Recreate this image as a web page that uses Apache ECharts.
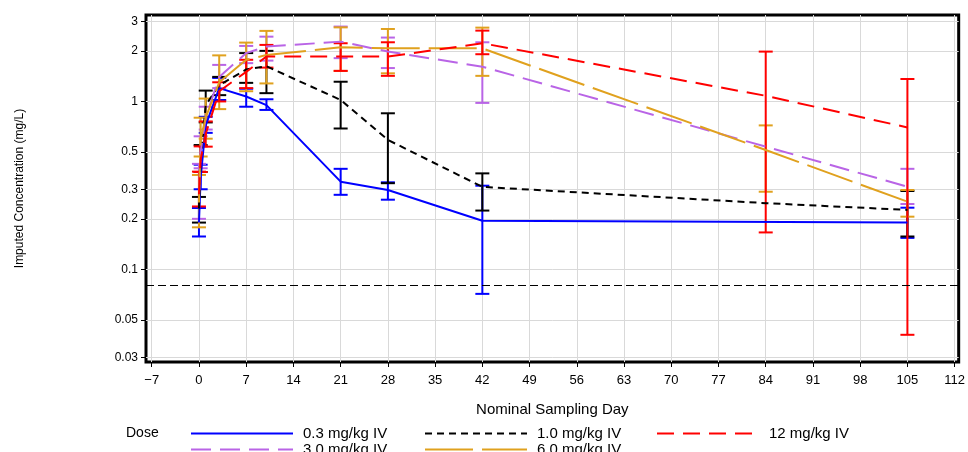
<!DOCTYPE html>
<html>
<head>
<meta charset="utf-8">
<script src="https://cdn.jsdelivr.net/npm/echarts@6/dist/echarts.min.js"></script>
<style>
  html, body { margin: 0; padding: 0; background: #fff; }
  #chart { width: 968px; height: 452px; }
</style>
</head>
<body>
<div id="chart"></div>
<script>
// Nominal sampling days
const days = [0, 0.25, 1, 3, 7, 10, 21, 28, 42, 84, 105];

// Mean imputed concentration (mg/L) and error bar bounds per dose group
const dose03Mean = [0.19, 0.35, 0.72, 1.2, 1.07, 0.95, 0.333, 0.297, 0.195, null, 0.19];
const dose03Low  = [0.157, 0.30, 0.65, 1.02, 0.93, 0.89, 0.278, 0.26, 0.0715, null, 0.154];
const dose03High = [0.232, 0.42, 0.81, 1.38, 1.19, 1.03, 0.397, 0.33, 0.315, null, 0.233];

const dose10Mean = [0.23, 0.45, 0.95, 1.25, 1.55, 1.62, 1.02, 0.59, 0.31, 0.248, 0.226];
const dose10Low  = [0.19, 0.38, 0.75, 1.09, 1.29, 1.12, 0.69, 0.326, 0.224, null, 0.157];
const dose10High = [0.27, 0.55, 1.16, 1.4, 1.94, 2.0, 1.31, 0.85, 0.373, null, 0.293];

const dose12Mean = [0.28, 0.45, 0.64, 1.15, 1.5, 1.85, 1.85, 1.85, 2.22, 1.08, 0.70];
const dose12Low  = [0.237, 0.38, 0.538, 1.0, 1.2, 1.59, 1.52, 1.42, 1.91, 0.166, 0.0408];
const dose12High = [0.382, 0.54, 0.76, 1.3, 1.77, 2.17, 2.22, 2.25, 2.64, 1.98, 1.36];

const dose30Mean = [0.29, 0.5, 0.8, 1.4, 1.94, 2.12, 2.27, 1.98, 1.61, null, 0.311];
const dose30Low  = [0.2, 0.4, 0.68, 1.2, 1.69, 1.75, 1.81, 1.58, 0.98, null, 0.245];
const dose30High = [0.425, 0.62, 0.93, 1.65, 2.14, 2.43, 2.79, 2.4, 2.25, null, 0.397];

const dose60Mean = [0.25, 0.6, 0.8, 1.3, 1.77, 1.89, 2.1, 2.07, 2.07, 0.514, 0.253];
const dose60Low  = [0.178, 0.47, 0.6, 0.9, 1.15, 1.28, 1.52, 1.47, 1.42, 0.29, 0.206];
const dose60High = [0.365, 0.8, 1.04, 1.88, 2.24, 2.63, 2.76, 2.7, 2.75, 0.72, 0.297];

// Lower limit of quantification reference line (mg/L)
const lloq = 0.078;

// Axis tick values
const xTicks = [-7, 0, 7, 14, 21, 28, 35, 42, 49, 56, 63, 70, 77, 84, 91, 98, 105, 112];
const yTicks = [0.03, 0.05, 0.1, 0.2, 0.3, 0.5, 1, 2, 3];

const groups = [
  { name: '0.3 mg/kg IV', mean: dose03Mean, low: dose03Low, high: dose03High, color: '#0000ff', dash: 'solid' },
  { name: '1.0 mg/kg IV', mean: dose10Mean, low: dose10Low, high: dose10High, color: '#000000', dash: [7, 5] },
  { name: '3.0 mg/kg IV', mean: dose30Mean, low: dose30Low, high: dose30High, color: '#b964e6', dash: [20, 9] },
  { name: '6.0 mg/kg IV', mean: dose60Mean, low: dose60Low, high: dose60High, color: '#e0a11e', dash: [48, 9] },
  { name: '12 mg/kg IV',  mean: dose12Mean, low: dose12Low, high: dose12High, color: '#ff0000', dash: [17, 9] }
];

const FONT = '"Liberation Sans", Arial, sans-serif';

function errorBar(params, api) {
  const x = api.value(0);
  const pLo = api.coord([x, api.value(1)]);
  const pHi = api.coord([x, api.value(2)]);
  const half = 7;
  const style = { stroke: api.visual('color'), lineWidth: 2, fill: null };
  return {
    type: 'group',
    children: [
      { type: 'line', shape: { x1: pLo[0], y1: pHi[1], x2: pLo[0], y2: pLo[1] }, style: style },
      { type: 'line', shape: { x1: pLo[0] - half, y1: pHi[1], x2: pLo[0] + half, y2: pHi[1] }, style: style },
      { type: 'line', shape: { x1: pLo[0] - half, y1: pLo[1], x2: pLo[0] + half, y2: pLo[1] }, style: style }
    ]
  };
}

const series = [];
groups.forEach(function (g) {
  const bars = [];
  const pts = [];
  days.forEach(function (d, i) {
    if (g.mean[i] != null) pts.push([d, g.mean[i]]);
    if (g.low[i] != null && g.high[i] != null) bars.push([d, g.low[i], g.high[i]]);
  });
  series.push({
    type: 'custom',
    name: g.name + ' bars',
    renderItem: errorBar,
    itemStyle: { color: g.color },
    encode: { x: 0, y: [1, 2] },
    data: bars,
    silent: true,
    z: 3
  });
  series.push({
    type: 'line',
    name: g.name,
    data: pts,
    symbol: 'none',
    color: g.color,
    lineStyle: { color: g.color, width: 2, type: g.dash },
    silent: true,
    z: 4
  });
});

// Dashed reference line at the LLOQ
series.push({
  type: 'line',
  name: 'LLOQ',
  data: [],
  markLine: {
    silent: true,
    symbol: 'none',
    label: { show: false },
    lineStyle: { color: '#000', width: 1, type: [8, 4] },
    data: [{ yAxis: lloq }]
  }
});

// Legend positions, one per entry
const legendSpots = [
  { name: '0.3 mg/kg IV', left: 190, top: 426 },
  { name: '1.0 mg/kg IV', left: 424, top: 426 },
  { name: '12 mg/kg IV',  left: 656, top: 426 },
  { name: '3.0 mg/kg IV', left: 190, top: 442 },
  { name: '6.0 mg/kg IV', left: 424, top: 442 }
];

const option = {
  animation: false,
  backgroundColor: '#fff',
  grid: {
    left: 146, right: 7, top: 15, bottom: 90,
    show: true, borderColor: '#000', borderWidth: 3
  },
  xAxis: {
    type: 'value',
    min: -7.85,
    max: 112.6,
    name: 'Nominal Sampling Day',
    nameLocation: 'middle',
    nameGap: 40,
    nameTextStyle: { fontFamily: FONT, fontSize: 15, color: '#000' },
    axisLine: { show: false, onZero: false },
    axisTick: { show: true, length: 5, inside: false, customValues: xTicks, lineStyle: { color: '#000', width: 1 } },
    axisLabel: { customValues: xTicks, margin: 12, fontFamily: FONT, fontSize: 13, color: '#000',
      formatter: function (v) { return v < 0 ? '\u2212' + Math.abs(v) : String(v); } },
    splitLine: { show: true, lineStyle: { color: '#d9d9d9', width: 1 } }
  },
  yAxis: {
    type: 'log',
    logBase: 10,
    min: 0.0281,
    max: 3.27,
    name: 'Imputed Concentration (mg/L)',
    nameLocation: 'middle',
    nameGap: 120,
    nameTextStyle: { fontFamily: FONT, fontSize: 12, color: '#000' },
    axisLine: { show: false, onZero: false },
    axisTick: { show: true, length: 5, customValues: yTicks, lineStyle: { color: '#000', width: 1 } },
    axisLabel: { customValues: yTicks, margin: 8, fontFamily: FONT, fontSize: 12, color: '#000',
      formatter: function (v) { return String(v); } },
    splitLine: { show: true, lineStyle: { color: '#d9d9d9', width: 1 } },
    minorTick: { show: false }
  },
  legend: legendSpots.map(function (s) {
    return {
      data: [s.name],
      left: s.left,
      top: s.top,
      padding: 0,
      itemWidth: 102,
      itemHeight: 12,
      itemGap: 0,
      selectedMode: false,
      itemStyle: { opacity: 0 },
      textStyle: { fontFamily: FONT, fontSize: 15, color: '#000', padding: [0, 0, 0, 5] }
    };
  }),
  graphic: [
    { type: 'text', left: 126, top: 426, style: { text: 'Dose', font: '14px ' + FONT, fill: '#000' } }
  ],
  series: series
};

const chart = echarts.init(document.getElementById('chart'), null, { renderer: 'canvas' });
chart.setOption(option);
</script>
</body>
</html>
